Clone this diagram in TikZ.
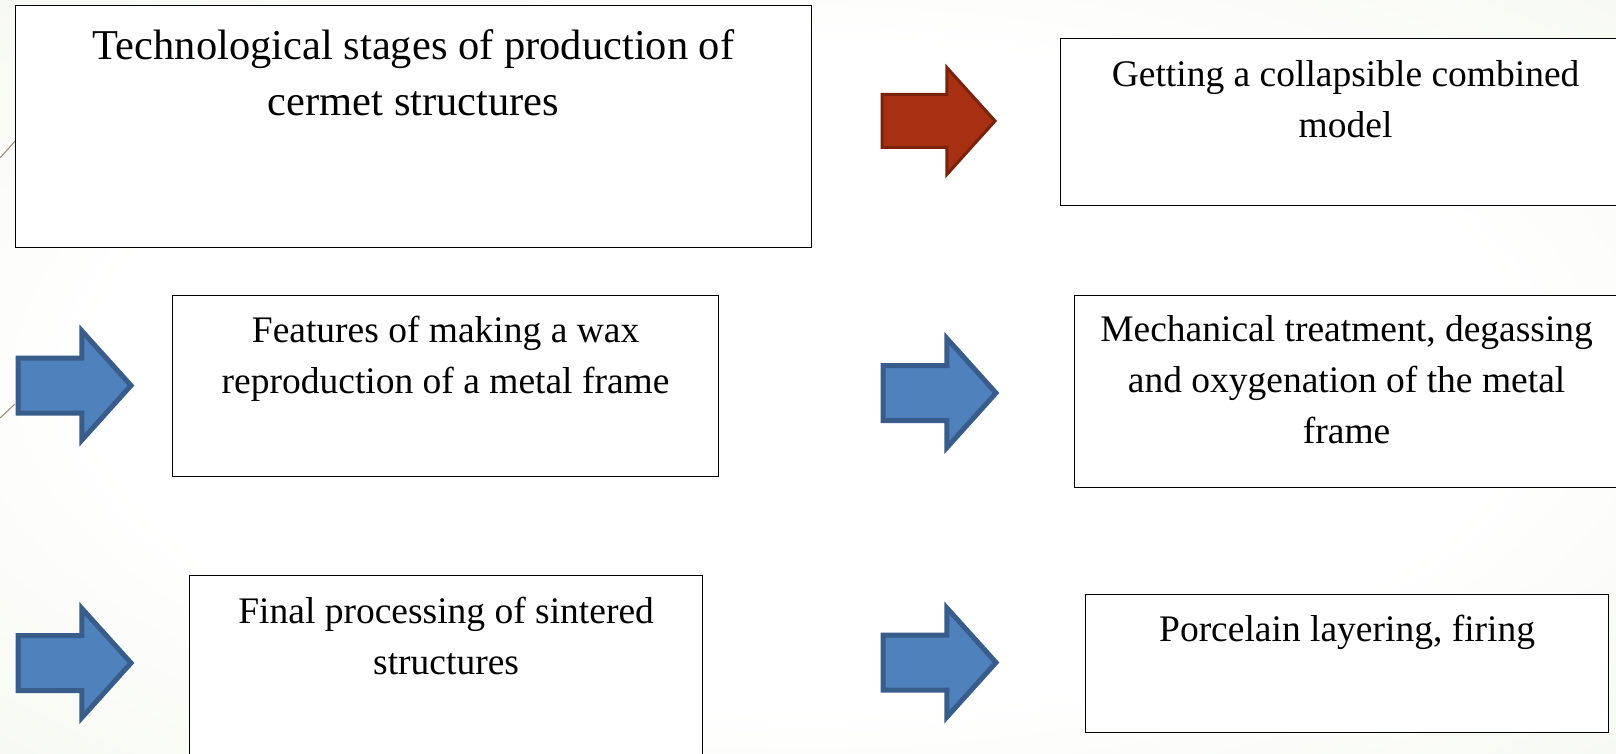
\documentclass[tikz,border=0pt]{standalone}
\usepackage{fontspec}
\setmainfont{Liberation Serif}
\usepackage{tikz}
\usetikzlibrary{
  shapes.arrows
}
\definecolor{bggreen}{RGB}{231,238,217}
\definecolor{arrowblue}{RGB}{79,129,189}
\definecolor{arrowblueline}{RGB}{56,93,138}
\definecolor{arrowred}{RGB}{166,48,17}
\definecolor{arrowredline}{RGB}{122,34,12}
\definecolor{themeline}{RGB}{150,140,118}
\pgfdeclareradialshading{slidebg}{\pgfpoint{0bp}{0bp}}{%
  color(0bp)=(white); color(22bp)=(white);
  color(62bp)=(bggreen); color(100bp)=(bggreen)}
% text box pinned to the top of a stage box: width, height, first baseline, text
\newcommand{\boxtext}[4]{\parbox[c][#2][t]{#1}{\centering\rule{0pt}{#3}#4}}
\tikzset{
  stage/.style={draw=black,line width=1.2pt,fill=white,inner sep=0pt,
    anchor=north west,font=\fontsize{37.5}{51}\selectfont},
  headstage/.style={stage,font=\fontsize{42.5}{56}\selectfont},
  blockarrow/.style={single arrow,single arrow tip angle=96,
    single arrow head extend=27pt,inner xsep=0pt,inner ysep=25pt,
    minimum height=113pt,line width=5pt,anchor=tail,
    draw=arrowblueline,fill=arrowblue},
  redarrow/.style={blockarrow,draw=arrowredline,fill=arrowred,line width=3pt},
  bgline/.style={draw=themeline,line width=1pt}
}

\begin{document}
\begin{tikzpicture}[x=1pt,y=-1pt]
  \useasboundingbox (0,0) rectangle (1616,754);
  \shade[shading=slidebg] (0,0) rectangle (1616,754);
  \draw[bgline] (0,158) -- (16,140);
  \draw[bgline] (0,418) -- (15,404);

  \node[headstage] (title) at (15,5)
    {\boxtext{796pt}{242pt}{54pt}{Technological stages of production of\\cermet structures}};
  \node[stage] (model) at (1060,38)
    {\boxtext{570pt}{167pt}{48pt}{Getting a collapsible combined\\model}};
  \node[stage] (wax) at (172,295)
    {\boxtext{546pt}{181pt}{47pt}{Features of making a wax\\reproduction of a metal frame}};
  \node[stage] (treat) at (1074,295)
    {\boxtext{544pt}{192pt}{46pt}{Mechanical treatment, degassing\\and oxygenation of the metal\\frame}};
  \node[stage] (sinter) at (189,575)
    {\boxtext{513pt}{200pt}{48pt}{Final processing of sintered\\structures}};
  \node[stage] (porcelain) at (1085,594)
    {\boxtext{523pt}{138pt}{47pt}{Porcelain layering, firing}};

  \node[redarrow] (toModel) at (880.5,121) {};
  \node[blockarrow] (toWax) at (15.5,385.5) {};
  \node[blockarrow] (toTreat) at (880.5,393) {};
  \node[blockarrow] (toSinter) at (15.5,663) {};
  \node[blockarrow] (toPorcelain) at (880.5,662.5) {};
\end{tikzpicture}
\end{document}
